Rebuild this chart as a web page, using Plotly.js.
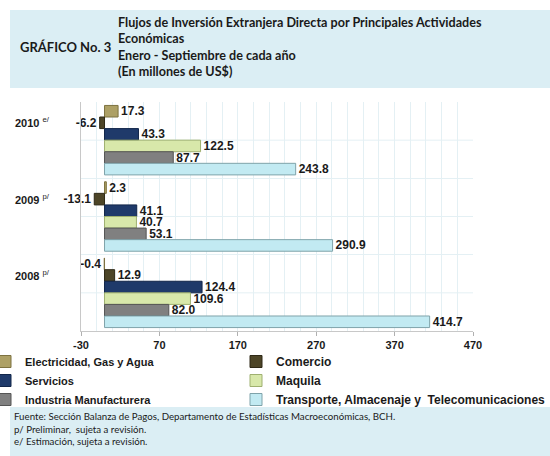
<!DOCTYPE html>
<html>
<head>
<meta charset="utf-8">
<script src="https://cdn.plot.ly/plotly-3.0.1.min.js"></script>
<style>html,body{margin:0;padding:0;background:#fff;}#chart{width:550px;height:456px;}</style>
</head>
<body>
<div id="chart"></div>
<script>
// ---- data ----
const categories = ['2010', '2009', '2008'];
const categorySuffix = ['e/', 'p/', 'p/'];
const seriesNames = [
  'Electricidad, Gas y Agua',
  'Comercio',
  'Servicios',
  'Maquila',
  'Industria Manufacturera',
  'Transporte, Almacenaje y  Telecomunicaciones'
];
const electricidad = [17.3, 2.3, -0.4];
const comercio = [-6.2, -13.1, 12.9];
const servicios = [43.3, 41.1, 124.4];
const maquila = [122.5, 40.7, 109.6];
const industria = [87.7, 53.1, 82.0];
const transporte = [243.8, 290.9, 414.7];
const xTickValues = [-30, 70, 170, 270, 370, 470];

const titleLabel = 'GRÁFICO No. 3';
const titleLines = [
  'Flujos de Inversión Extranjera Directa por Principales Actividades',
  'Económicas',
  'Enero - Septiembre de cada año',
  '(En millones de US$)'
];
const footerLines = [
  'Fuente: Sección Balanza de Pagos, Departamento de Estadísticas Macroeconómicas, BCH.',
  'p/ Preliminar,  sujeta a revisión.',
  'e/ Estimación, sujeta a revisión.'
];

// ---- styles ----
const seriesValues = [electricidad, comercio, servicios, maquila, industria, transporte];
const fillColors = ['#ada065', '#4d4527', '#1f3a6a', '#d8e8aa', '#808080', '#c2eaf2'];
const lineColors = ['#7d7240', '#2e2916', '#12264a', '#9fb070', '#555555', '#7fa3aa'];
const bandColor = '#dbeef4';
const gridColor = '#e4f0f4';
const boldArial = {family: 'Liberation Sans, Arial, sans-serif', size: 12, color: '#1a1a1a', weight: 'bold'};

const PLOT_L = 81, PLOT_W = 392, PLOT_T = 102, PLOT_H = 229;
const px2x = px => (px - PLOT_L) / PLOT_W;
const py2y = py => 1 - (py - PLOT_T) / PLOT_H;

const traces = seriesValues.map((vals, i) => ({
  type: 'bar',
  orientation: 'h',
  name: seriesNames[i],
  legend: i % 2 === 0 ? 'legend' : 'legend2',
  y: categories,
  x: vals,
  text: vals.map(v => v.toFixed(1)),
  textposition: 'outside',
  textfont: boldArial,
  constraintext: 'none',
  cliponaxis: false,
  marker: {color: fillColors[i], line: {color: lineColors[i], width: 1}},
  hoverinfo: 'x+name'
}));

const shapes = [
  {type: 'rect', xref: 'paper', yref: 'paper', layer: 'below',
   x0: px2x(10), x1: px2x(550), y0: py2y(10), y1: py2y(88),
   fillcolor: bandColor, line: {width: 0}},
  {type: 'rect', xref: 'paper', yref: 'paper', layer: 'below',
   x0: px2x(10), x1: px2x(550), y0: py2y(407), y1: py2y(460),
   fillcolor: bandColor, line: {width: 0}}
];
categories.forEach((c, i) => shapes.push({
  type: 'line', xref: 'paper', yref: 'y', layer: 'below', x0: 0, x1: 1, y0: i, y1: i,
  line: {color: gridColor, width: 1}
}));

const annotations = [
  {xref: 'paper', yref: 'paper', x: px2x(18), y: py2y(47), xanchor: 'left', yanchor: 'middle',
   text: '<b>' + titleLabel + '</b>', showarrow: false, align: 'left',
   font: {family: 'Lato, sans-serif', size: 13, color: '#1a1a1a'}},
  {xref: 'paper', yref: 'paper', x: px2x(116), y: py2y(13), xanchor: 'left', yanchor: 'top',
   text: '<b>' + titleLines.join('<br>') + '</b>', showarrow: false, align: 'left',
   font: {family: 'Lato, sans-serif', size: 12.6, color: '#1a1a1a'}},
  {xref: 'paper', yref: 'paper', x: px2x(12), y: py2y(408), xanchor: 'left', yanchor: 'top',
   text: footerLines.join('<br>'), showarrow: false, align: 'left',
   font: {family: 'Lato, sans-serif', size: 9.7, color: '#1a1a1a'}}
];
categories.forEach((c, i) => annotations.push({
  xref: 'paper', yref: 'y', x: 0, y: i, xanchor: 'right', yanchor: 'middle',
  xshift: -29, yshift: 18, showarrow: false,
  text: '<b>' + c + '</b> <sup>' + categorySuffix[i] + '</sup>',
  font: {family: 'Liberation Sans, Arial, sans-serif', size: 11, color: '#1a1a1a'}
}));

const legendBase = {
  orientation: 'v', xref: 'paper', yref: 'paper', xanchor: 'left', yanchor: 'top',
  y: py2y(347), itemwidth: 30, traceorder: 'normal',
  font: {family: 'Liberation Sans, Arial, sans-serif', size: 11, color: '#1a1a1a', weight: 'bold'},
  bgcolor: 'rgba(0,0,0,0)', borderwidth: 0
};

const layout = {
  width: 550, height: 456,
  margin: {l: PLOT_L, r: 550 - PLOT_L - PLOT_W, t: PLOT_T, b: 456 - PLOT_T - PLOT_H, autoexpand: false},
  paper_bgcolor: '#ffffff', plot_bgcolor: '#ffffff',
  barmode: 'group', bargap: 0.09, bargroupgap: 0,
  showlegend: true,
  xaxis: {
    range: [-30, 470], tickmode: 'array', tickvals: xTickValues, ticktext: xTickValues.map(String),
    ticks: 'outside', ticklen: 4, tickcolor: '#b0b0b0',
    showgrid: true, gridcolor: gridColor, zeroline: false,
    minor: {dtick: 20, tick0: -30, showgrid: true, gridcolor: gridColor},
    showline: true, linecolor: '#c8c8c8',
    tickfont: {family: 'Liberation Sans, Arial, sans-serif', size: 11, color: '#1a1a1a', weight: 'bold'}
  },
  yaxis: {
    type: 'category', categoryorder: 'array', categoryarray: categories,
    range: [2.5, -0.5], showticklabels: false, tickson: 'boundaries', ticks: '',
    showgrid: true, gridcolor: gridColor, showline: true, linecolor: '#c8c8c8', zeroline: false
  },
  legend: Object.assign({}, legendBase, {x: px2x(-15)}),
  legend2: Object.assign({}, legendBase, {x: px2x(236),
    font: {family: 'Liberation Sans, Arial, sans-serif', size: 12, color: '#1a1a1a', weight: 'bold'}}),
  shapes: shapes,
  annotations: annotations
};

Plotly.newPlot('chart', traces, layout, {displayModeBar: false, staticPlot: true});
</script>
</body>
</html>
